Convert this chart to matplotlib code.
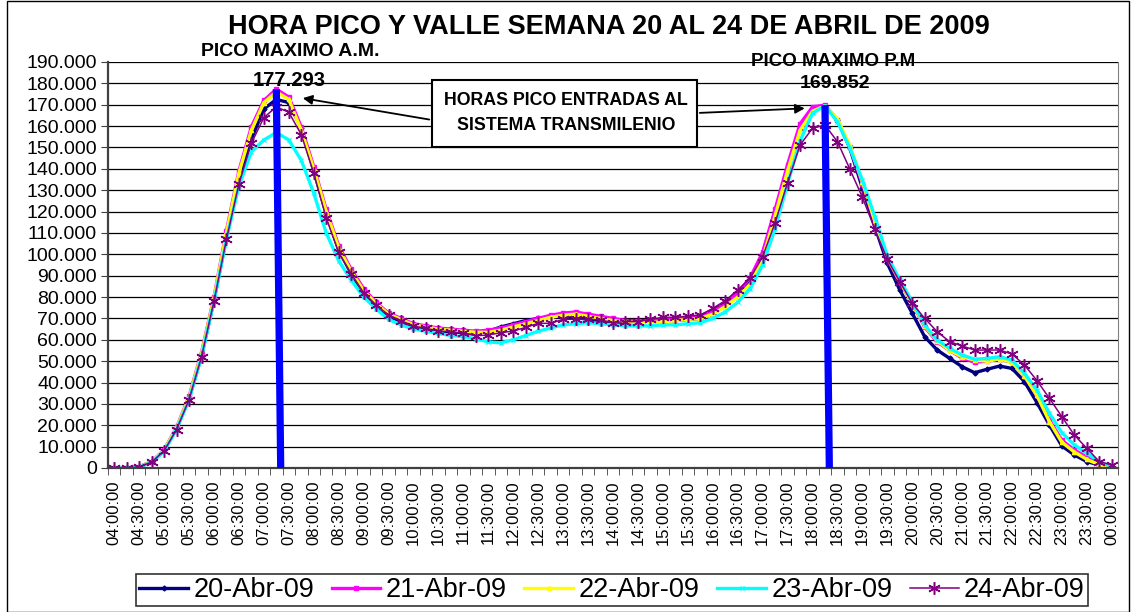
import matplotlib
matplotlib.use("Agg")
import matplotlib.pyplot as plt
from matplotlib.ticker import FuncFormatter
from matplotlib.patches import Rectangle
import numpy as np

plt.rcParams['font.family'] = ['Liberation Sans', 'DejaVu Sans']

# franjas de 15 minutos, 04:00 a 00:00
horas = [f"{((240 + 15 * k) // 60) % 24:02d}:{(15 * k) % 60:02d}:00" for k in range(81)]

# entradas por franja (miles)
abr20 = [0, 0, 0.6, 2.8, 8.2, 18.5, 32.5, 52.5, 78.5, 108, 136, 154, 168, 172.5, 171, 159, 139, 119, 102, 91, 82,
         76, 71, 68.5, 66, 65, 64, 63.5, 63.5, 63.5, 64, 66, 67.5, 69, 70, 70.5, 71, 70.5, 69.5, 69, 68,
         68, 68, 68.5, 69, 69, 69.5, 70, 72, 77, 82, 88, 100, 120, 139.8, 158.6, 168, 169.5, 162.8, 149.6, 131,
         113, 95.8, 83.3, 72.4, 61.4, 55.2, 51.3, 47.4, 44.6, 46.2, 47.7, 46.6, 40.4, 30.6, 20.1, 10.3, 6.1, 3, 1.4, 0.3]
abr21 = [0, 0, 0.6, 2.9, 8.5, 19, 33.5, 54, 80, 111, 139, 159.7, 172, 177.293, 173.6, 159.6, 141, 121, 104, 93, 84,
         77.5, 72.5, 70, 67.5, 66.5, 65.5, 65, 64.5, 64, 64.5, 65.5, 67, 68.5, 70, 71.5, 72.5, 73, 72, 71, 70,
         69, 69, 69, 69.5, 70, 70.5, 71, 73.5, 77, 82, 89, 101, 121, 142, 161, 169, 169.852, 163, 150, 133,
         115, 98, 87, 77, 66, 59, 55, 51.5, 49.5, 50, 51, 49.5, 43, 34, 22.5, 13, 8.5, 5, 2, 0.5]
abr22 = [0, 0, 0.6, 2.9, 8.4, 18.8, 33, 53.5, 79.5, 110, 138, 158, 171, 176, 172.5, 158, 140, 120, 103, 92, 83,
         77, 72, 69.5, 67, 66, 65, 64.5, 64, 63.5, 63.5, 64.5, 66, 67.5, 69, 70.5, 71.5, 72, 71, 70, 69,
         68.5, 68, 68, 68.5, 69, 69.5, 70, 72, 75.5, 80, 86, 98, 118, 139, 158, 167, 169.5, 163.5, 151, 134,
         115.5, 98.5, 87.5, 77, 66.5, 59.5, 55, 52, 50.5, 50, 51, 49.5, 43, 34, 21.7, 12, 7.5, 4, 1.5, 0.3]
abr23 = [0, 0, 0.5, 2.6, 7.8, 18, 32, 52, 78, 107, 132, 148, 153.5, 157, 153.5, 144, 128.7, 110, 97, 88, 80,
         74.5, 69.5, 67, 65, 64, 63, 62, 61.5, 60.5, 59, 58.6, 60, 62, 64, 65.5, 67, 67.5, 68, 67.5, 67,
         66.5, 66.5, 66.5, 67, 67, 67.5, 68, 70, 73, 77.5, 84, 95, 112, 133, 153, 166, 169.5, 162, 149.7, 134.8,
         117.6, 99.2, 88, 77.8, 66.9, 59.9, 56, 52.9, 50.9, 51.3, 52.1, 50.5, 44.3, 36.5, 25.6, 16.5, 10.8, 6.9, 3, 0.6]
abr24 = [0, 0, 0.5, 2.8, 8, 18, 32, 52, 78, 107, 133, 152, 164, 169, 166.5, 156, 138, 117, 101, 91, 82,
         76.3, 71.6, 69, 66.4, 65.4, 64.1, 63.8, 63, 61.9, 62.2, 63.3, 64.1, 65.8, 67.7, 67.7, 69.6, 69.6, 69.6, 69.3, 68,
         68.5, 68.5, 69.6, 70.5, 70.5, 71.1, 71.6, 74.7, 78.3, 83.3, 88.8, 98.9, 114.8, 133.5, 151.1, 159, 160.5, 152.7, 139.8, 126.7,
         111.7, 97.7, 87.2, 77.1, 70, 63.8, 59.1, 57.1, 55.2, 55.2, 55.2, 53.3, 48.2, 40.9, 32.6, 24, 15.4, 9.2, 3, 1.4]

nombres = ['20-Abr-09', '21-Abr-09', '22-Abr-09', '23-Abr-09', '24-Abr-09']
colores = ['#000080', '#FF00FF', '#FFFF00', '#00FFFF', '#800080']

pico_idx = [13, 57]
pico_val = [177293, 169852]

fig = plt.figure(figsize=(11.31, 6.12), dpi=100)
W, H = 1131, 612
ax = fig.add_axes([108 / W, 1 - 468 / H, (1118 - 108) / W, (468 - 62) / H])

x = np.arange(len(horas))
estilos = [
    dict(lw=2.4, marker='D', ms=2.5),
    dict(lw=2.4, marker='s', ms=2.5),
    dict(lw=2.4, marker='^', ms=3),
    dict(lw=2.4, marker='x', ms=3),
    dict(lw=1.1, marker=(6, 2, 0), ms=9, mew=1.1),
]
for nombre, vals, c, st in zip(nombres, [abr20, abr21, abr22, abr23, abr24], colores, estilos):
    ax.plot(x, np.array(vals) * 1000, color=c, label=nombre, mfc=c, mec=c, **st)

# barras azules de los picos
for i, v in zip(pico_idx, pico_val):
    ax.plot([i, i + 0.35], [v, 0], color='#0000FF', lw=5.2, solid_capstyle='butt', zorder=6)

ax.set_xlim(-0.5, len(horas) - 0.5)
ax.set_ylim(0, 190000)
ax.set_yticks(np.arange(0, 190001, 10000))
ax.yaxis.set_major_formatter(FuncFormatter(lambda v, p: f"{int(v):,}".replace(",", ".")))
ax.set_xticks(x[::2])
ax.set_xticklabels(horas[::2], rotation=90)
ax.set_xticks(np.arange(-0.5, len(horas), 1), minor=True)
ax.tick_params(axis='x', which='major', length=0, pad=9, labelsize=12)
ax.tick_params(axis='x', which='minor', length=5, color='#404040')
ax.tick_params(axis='y', length=5, color='#404040', labelsize=14, pad=3)
ax.grid(axis='y', color='black', lw=0.9)
ax.set_axisbelow(True)
for s in ['left', 'bottom']:
    ax.spines[s].set_color('#404040')
    ax.spines[s].set_linewidth(1.6)
ax.spines['top'].set_visible(False)
ax.spines['right'].set_color('#808080')

fig.text(609 / W, 1 - 27 / H, 'HORA PICO Y VALLE SEMANA 20 AL 24 DE ABRIL DE 2009',
         ha='center', va='center', fontsize=19.5, fontweight='bold')
fig.text(290 / W, 1 - 52 / H, 'PICO MAXIMO A.M.', ha='center', va='center', fontsize=14, fontweight='bold')
fig.text(289 / W, 1 - 80 / H, f"{pico_val[0]:,}".replace(",", "."), ha='center', va='center',
         fontsize=14.5, fontweight='bold')
fig.text(833 / W, 1 - 62 / H, 'PICO MAXIMO P.M', ha='center', va='center', fontsize=13.5, fontweight='bold')
fig.text(835 / W, 1 - 84 / H, f"{pico_val[1]:,}".replace(",", "."), ha='center', va='center',
         fontsize=14, fontweight='bold')

fig.patches.append(Rectangle((432 / W, 1 - 147 / H), 265 / W, 67 / H, transform=fig.transFigure,
                             fill=True, fc='white', ec='black', lw=1.5, zorder=7))
fig.text(566 / W, 1 - 113 / H, 'HORAS PICO ENTRADAS AL\nSISTEMA TRANSMILENIO', ha='center', va='center',
         fontsize=12.8, fontweight='bold', linespacing=1.55, zorder=8)

ax.annotate('', xy=(pico_idx[0] + 1.9, pico_val[0] - 4000), xycoords='data',
            xytext=(432, H - 120), textcoords='figure pixels',
            arrowprops=dict(arrowstyle='-|>', color='black', lw=1.3, mutation_scale=14), annotation_clip=False)
ax.annotate('', xy=(pico_idx[1] - 1.4, pico_val[1] - 1500), xycoords='data',
            xytext=(697, H - 113), textcoords='figure pixels',
            arrowprops=dict(arrowstyle='-|>', color='black', lw=1.3, mutation_scale=14), annotation_clip=False)

leg = fig.legend(loc='center', bbox_to_anchor=(612 / W, 1 - 590 / H), ncol=5, fontsize=19.5,
                 frameon=True, fancybox=False, edgecolor='black', handlelength=1.8, handletextpad=0.2,
                 columnspacing=0.65, borderpad=0.12, numpoints=1)
leg.get_frame().set_linewidth(1.2)

fig.patches.append(Rectangle((7 / W, 0.5 / H), 1122 / W, 611 / H, transform=fig.transFigure,
                             fill=False, ec='black', lw=1))

fig.savefig('out.png', dpi=100)
